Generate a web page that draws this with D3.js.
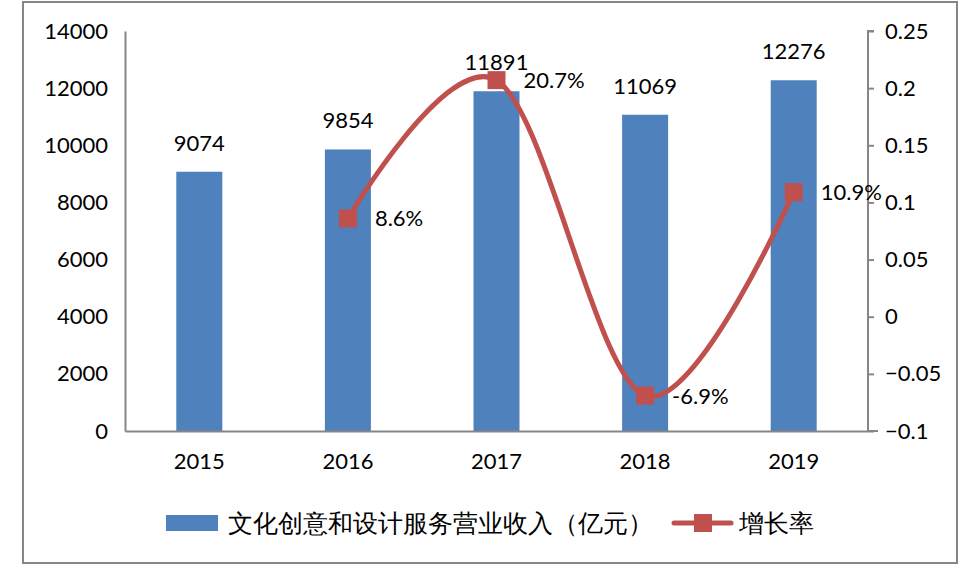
<!DOCTYPE html>
<html><head><meta charset="utf-8">
<script src="https://cdn.jsdelivr.net/npm/d3@7"></script>
<style>body{margin:0;background:#fff}svg{display:block}text{font-family:Lato,"Open Sans",sans-serif}</style>
</head><body><svg id="c" width="968" height="578"></svg>
<script>
const years = ["2015","2016","2017","2018","2019"];
const revenue = [9074, 9854, 11891, 11069, 12276];
const growth = [null, 0.086, 0.207, -0.069, 0.109];
const growthLabels = ["", "8.6%", "20.7%", "-6.9%", "10.9%"];
const leftTicks = [0,2000,4000,6000,8000,10000,12000,14000];
const rightTicks = [-0.1,-0.05,0,0.05,0.1,0.15,0.2,0.25];
const seriesNames = ["文化创意和设计服务营业收入（亿元）", "增长率"];

const svg = d3.select("#c");
const L = 125, R = 868, T = 31, B = 431;
const blue = "#4F81BD", red = "#C0504D", axisC = "#868686";

svg.append("rect").attr("x",23).attr("y",2).attr("width",934).attr("height",561)
  .attr("fill","#fff").attr("stroke",axisC).attr("stroke-width",2);

const x = d3.scaleBand().domain(years).range([L,R]);
const y = d3.scaleLinear().domain([0,14000]).range([B,T]);
const y2 = d3.scaleLinear().domain([-0.1,0.25]).range([B,T]);
const bw = 46;

// bars
svg.append("g").selectAll("rect").data(years).join("rect")
  .attr("x",d=>x(d)+x.bandwidth()/2-bw/2).attr("width",bw)
  .attr("y",(d,i)=>y(revenue[i])).attr("height",(d,i)=>B-y(revenue[i]))
  .attr("fill",blue);

// left axis
const ga = svg.append("g").attr("transform",`translate(${L},0)`)
  .call(d3.axisLeft(y).tickValues(leftTicks).tickSize(0).tickPadding(17).tickFormat(d3.format("d")));
// right axis
const gb = svg.append("g").attr("transform",`translate(${R},0)`)
  .call(d3.axisRight(y2).tickValues(rightTicks).tickSize(6).tickPadding(11).tickFormat(d=>d3.format("")(+d.toFixed(2))));
// bottom axis
const gc = svg.append("g").attr("transform",`translate(0,${B})`)
  .call(d3.axisBottom(x).tickSize(0).tickPadding(22));
[ga,gb,gc].forEach(g=>{
  g.select(".domain").attr("stroke",axisC).attr("stroke-width",2);
  g.selectAll(".tick line").attr("stroke",axisC).attr("stroke-width",2);
  g.selectAll("text").attr("font-size",22).attr("fill","#000").attr("font-family","Lato");
});
gb.select(".domain").attr("d",`M6,${T}H0V${B}H10`);

// bar labels
svg.append("g").selectAll("text").data(years).join("text")
  .attr("x",d=>x(d)+x.bandwidth()/2).attr("y",(d,i)=>y(revenue[i])-21)
  .attr("text-anchor","middle").attr("font-size",22).text((d,i)=>revenue[i]);

// line
const pts = years.map((d,i)=>({x:x(d)+x.bandwidth()/2, v:growth[i], lab:growthLabels[i]})).filter(p=>p.v!==null);
const line = d3.line().x(p=>p.x).y(p=>y2(p.v)).curve(d3.curveCardinal.tension(0));
svg.append("path").attr("d",line(pts)).attr("fill","none").attr("stroke",red).attr("stroke-width",5);
svg.append("g").selectAll("rect").data(pts).join("rect")
  .attr("x",p=>p.x-9).attr("y",p=>y2(p.v)-9).attr("width",18).attr("height",18).attr("fill",red);
svg.append("g").selectAll("text").data(pts).join("text")
  .attr("x",p=>p.x+27).attr("y",p=>y2(p.v)+8).attr("font-size",22).text(p=>p.lab);

// legend
svg.append("rect").attr("x",166).attr("y",515).attr("width",52).attr("height",16).attr("fill",blue);
svg.append("text").attr("x",228).attr("y",532).attr("font-size",25)
  .attr("font-family","'Noto Sans CJK SC'").text(seriesNames[0]);
svg.append("line").attr("x1",674).attr("x2",731).attr("y1",523).attr("y2",523)
  .attr("stroke",red).attr("stroke-width",5).attr("stroke-linecap","round");
svg.append("rect").attr("x",694).attr("y",514).attr("width",18).attr("height",18).attr("fill",red);
svg.append("text").attr("x",739).attr("y",532).attr("font-size",25)
  .attr("font-family","'Noto Sans CJK SC'").text(seriesNames[1]);
</script></body></html>
